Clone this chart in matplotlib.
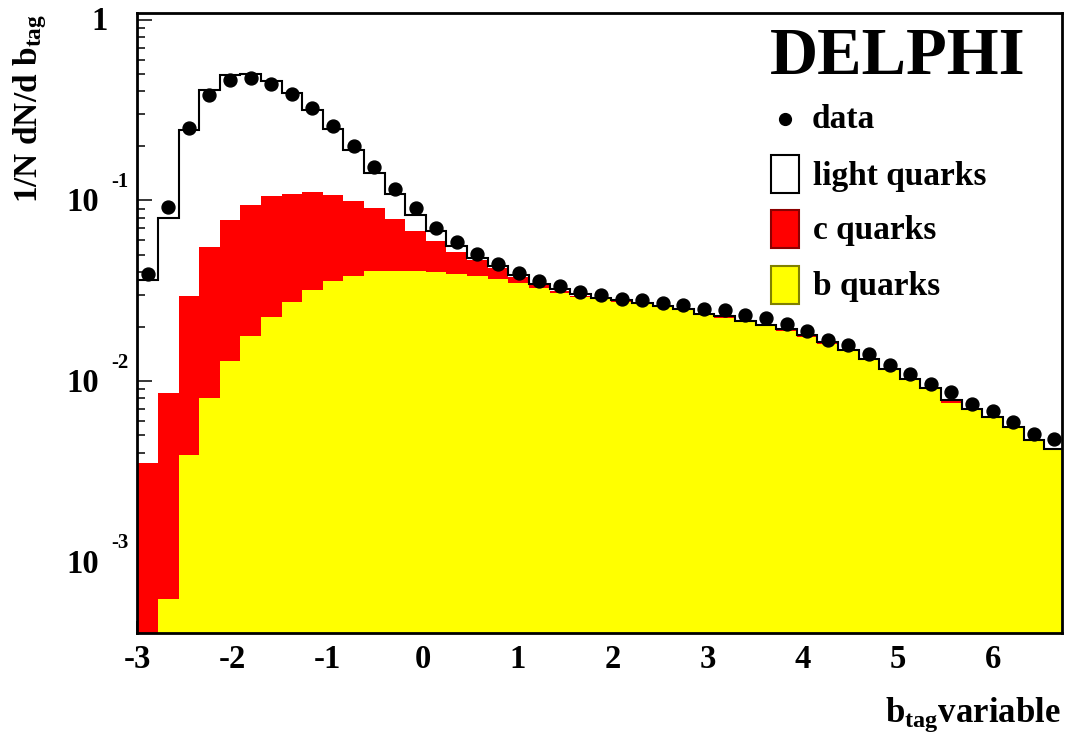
import numpy as np
import matplotlib
matplotlib.use("Agg")
import matplotlib.pyplot as plt
from matplotlib.patches import Rectangle
from matplotlib.lines import Line2D
from matplotlib.ticker import FixedLocator, LogLocator, MultipleLocator, NullFormatter

# ---------------- data ----------------
BIN_LO, BIN_HI, N_BINS = -3.0, 6.75, 45

data_vals = [0.039, 0.0915, 0.25, 0.382, 0.462, 0.475, 0.44, 0.387, 0.324, 0.258,
             0.199, 0.152, 0.1156, 0.0903, 0.0704, 0.059, 0.0506, 0.0443, 0.0398, 0.0358,
             0.0334, 0.031, 0.0299, 0.0286, 0.0282, 0.0271, 0.0264, 0.025, 0.0246, 0.0231,
             0.0222, 0.0207, 0.0189, 0.0169, 0.0158, 0.0141, 0.0122, 0.0109, 0.0096, 0.0087,
             0.0075, 0.00683, 0.00594, 0.00506, 0.0048]

# stacked tops: light+c+b (total MC)
total_top = [0.0363, 0.080, 0.245, 0.407, 0.495, 0.499, 0.455, 0.390, 0.317, 0.248,
             0.190, 0.142, 0.108, 0.0834, 0.068, 0.0555, 0.048, 0.0432, 0.0387, 0.0345,
             0.0321, 0.0301, 0.0289, 0.0279, 0.0270, 0.0261, 0.0251, 0.0236, 0.0228, 0.0216,
             0.0205, 0.0194, 0.0179, 0.0164, 0.0149, 0.0133, 0.0117, 0.0103, 0.0092, 0.0078,
             0.00703, 0.00633, 0.00557, 0.00474, 0.00421]

# stacked tops: c+b
cb_top = [0.00352, 0.0086, 0.0297, 0.055, 0.078, 0.0944, 0.105, 0.109, 0.111, 0.107,
          0.0996, 0.0903, 0.0789, 0.068, 0.0594, 0.0516, 0.0469, 0.0423, 0.0377, 0.0338,
          0.0315, 0.0296, 0.0286, 0.0276, 0.0268, 0.0259, 0.0249, 0.0234, 0.0226, 0.0214,
          0.0203, 0.0192, 0.0177, 0.0162, 0.0148, 0.0132, 0.0116, 0.0102, 0.0091, 0.0077,
          0.00697, 0.00628, 0.00553, 0.0047, 0.00418]

# b only
b_top = [0.0002, 0.00062, 0.00389, 0.0080, 0.01285, 0.01767, 0.0227, 0.0273, 0.0317, 0.0358,
         0.0382, 0.0404, 0.0405, 0.0405, 0.0400, 0.0389, 0.0383, 0.0368, 0.0347, 0.0329,
         0.0307, 0.0293, 0.0284, 0.0274, 0.0265, 0.0257, 0.0247, 0.0232, 0.0224, 0.0212,
         0.0201, 0.0190, 0.0175, 0.0160, 0.0146, 0.0130, 0.0115, 0.0101, 0.0090, 0.0076,
         0.0069, 0.0062, 0.00547, 0.00465, 0.00414]

x_ticks = [-3, -2, -1, 0, 1, 2, 3, 4, 5, 6]
y_exps = [-3, -2, -1, 0]
legend_labels = ["data", "light quarks", "c quarks", "b quarks"]

# ---------------- style ----------------
plt.rcParams['font.family'] = ['Liberation Serif', 'DejaVu Serif']
plt.rcParams['font.weight'] = 'bold'
plt.rcParams['mathtext.fontset'] = 'custom'
plt.rcParams['mathtext.rm'] = 'Liberation Serif:bold'
plt.rcParams['mathtext.it'] = 'Liberation Serif:bold'
plt.rcParams['mathtext.bf'] = 'Liberation Serif:bold'

W, H = 1069, 738
fig = plt.figure(figsize=(W / 100, H / 100), dpi=100)

def fx(x):
    return x / W

def fy(y):
    return 1 - y / H

AX_L, AX_R, AX_T, AX_B = 137.3, 1062.3, 12.7, 632.7
ax = fig.add_axes([fx(AX_L), fy(AX_B), (AX_R - AX_L) / W, (AX_B - AX_T) / H])
ax.set_yscale('log')

edges = BIN_LO + (BIN_HI - BIN_LO) / N_BINS * np.arange(N_BINS + 1)
centers = 0.5 * (edges[:-1] + edges[1:])

base = 1e-6
ax.stairs(total_top, edges, baseline=base, fill=True, color='white', lw=0, zorder=1)
ax.stairs(cb_top, edges, baseline=base, fill=True, color='#ff0000', lw=0, zorder=2)
ax.stairs(b_top, edges, baseline=base, fill=True, color='#ffff00', lw=0, zorder=3)
ax.stairs(total_top, edges, baseline=None, color='black', lw=1.5, zorder=4)
ax.plot(centers, data_vals, 'o', color='black', ms=9.3, zorder=5)

ax.set_xlim(-3, 6.724)
ax.set_ylim(10 ** -3.393, 10 ** 0.038)

for s in ax.spines.values():
    s.set_linewidth(2)
    s.set_zorder(6)

ax.xaxis.set_major_locator(FixedLocator(x_ticks))
ax.xaxis.set_minor_locator(MultipleLocator(0.2))
ax.set_xticklabels([str(v) for v in x_ticks], fontsize=23.5, fontweight='bold')
ax.yaxis.set_major_locator(FixedLocator([10.0 ** e for e in y_exps]))
ax.yaxis.set_minor_locator(LogLocator(base=10, subs=np.arange(2, 10)))
ax.yaxis.set_major_formatter(NullFormatter())
ax.yaxis.set_minor_formatter(NullFormatter())

ax.tick_params(axis='both', which='both', direction='in', top=False, right=False, width=1.1, zorder=7)
ax.tick_params(axis='x', which='major', length=9, pad=8)
ax.tick_params(axis='x', which='minor', length=4.5)
ax.tick_params(axis='y', which='major', length=10.5)
ax.tick_params(axis='y', which='minor', length=5.5)

# y tick labels, ROOT style
y0px, dec_px = 561.7, 180.7
for e in y_exps:
    ypx = y0px - (e + 3) * dec_px
    if e == 0:
        fig.text(fx(108), fy(ypx + 1.5), "1", fontsize=23.5, fontweight='bold', ha='right', va='center')
    else:
        fig.text(fx(99), fy(ypx + 2.5), "10", fontsize=23.5, fontweight='bold', ha='right', va='center')
        fig.text(fx(111), fy(ypx - 18.5), str(e), fontsize=15, fontweight='bold', ha='left', va='center')

# axis titles
fig.text(fx(30), fy(108), r"1/N dN/d b$_{\rm tag}$", rotation=90, fontsize=24,
         fontweight='bold', ha='center', va='center')
fig.text(fx(1061), fy(722), r"b$_{\rm tag}$variable", fontsize=25, fontweight='bold',
         ha='right', va='baseline')

# DELPHI label
fig.text(fx(898), fy(57), "DELPHI", fontsize=48, fontweight='bold', ha='center', va='center')

# legend (manual)
fig.add_artist(Line2D([fx(785)], [fy(119)], marker='o', color='black', ms=8.5, ls='none'))
fig.text(fx(812), fy(119), legend_labels[0], fontsize=24, fontweight='bold', ha='left', va='center')
boxes = [(155, 'white', 'black'), (210, '#ff0000', '#8b0000'), (265.7, '#ffff00', '#808000')]
for (ytop, fc, ec), lab in zip(boxes, legend_labels[1:]):
    fig.add_artist(Rectangle((fx(770.7), fy(ytop + 38)), 28.3 / W, 38 / H, facecolor=fc,
                             edgecolor=ec, lw=1.5, transform=fig.transFigure))
    fig.text(fx(813), fy(ytop + 21), lab, fontsize=24, fontweight='bold', ha='left', va='center')

fig.savefig("out.png", dpi=100)
